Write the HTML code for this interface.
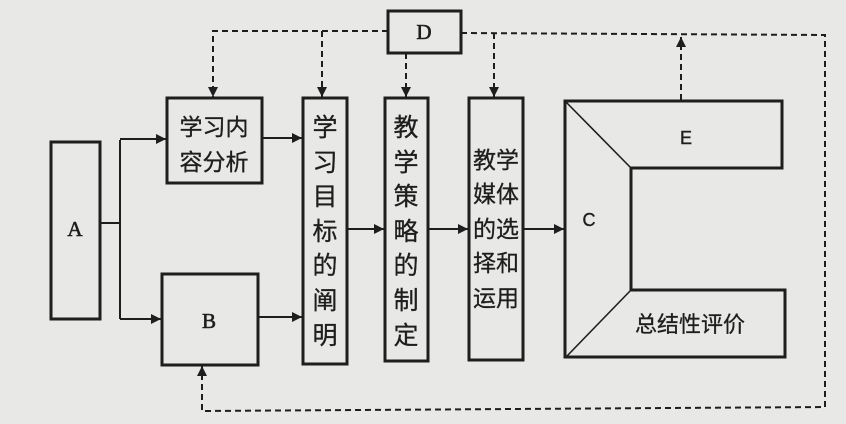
<!DOCTYPE html>
<html><head><meta charset="utf-8"><style>
html,body{margin:0;padding:0;background:#e8e8e6;}
svg{display:block;}
.cj{font-family:"Liberation Sans","Noto Sans CJK SC",sans-serif;fill:#1e1e1e;stroke:#1e1e1e;stroke-width:0.3;}
</style></head><body>
<svg width="846" height="424" viewBox="0 0 846 424" xmlns="http://www.w3.org/2000/svg">
<defs>
<marker id="ar" viewBox="0 0 10 10" refX="10" refY="5" markerWidth="10" markerHeight="10" markerUnits="userSpaceOnUse" orient="auto">
<path d="M0,0 L10,5 L0,10 z" fill="#1e1e1e"/>
</marker>
</defs>
<rect width="846" height="424" fill="#e8e8e6"/>
<g fill="none" stroke="#1e1e1e" stroke-width="3">
<rect x="51" y="142" width="49" height="177"/>
<rect x="167" y="98" width="95" height="85"/>
<rect x="162" y="274" width="96" height="91"/>
<rect x="303" y="98" width="44" height="266"/>
<rect x="385" y="98" width="43" height="263"/>
<rect x="469" y="98" width="54" height="262"/>
<rect x="388" y="11" width="73" height="42"/>
<path d="M565,101 L782,101 L782,168 L631,168 L631,290 L785,290 L785,357 L565,357 Z"/>
</g>
<g fill="none" stroke="#1e1e1e" stroke-width="1.6">
<line x1="565" y1="101" x2="631" y2="168"/>
<line x1="631" y1="290" x2="567" y2="356"/>
</g>
<g fill="none" stroke="#1e1e1e" stroke-width="2">
<polyline points="100,223 120,223"/>
<polyline points="120,140 120,319"/>
<line x1="120" y1="139" x2="166" y2="139" marker-end="url(#ar)"/>
<line x1="120" y1="319" x2="161" y2="319" marker-end="url(#ar)"/>
<line x1="262" y1="138" x2="302" y2="138" marker-end="url(#ar)"/>
<line x1="258" y1="317" x2="302" y2="317" marker-end="url(#ar)"/>
<line x1="347" y1="229" x2="384" y2="229" marker-end="url(#ar)"/>
<line x1="428" y1="229" x2="468" y2="229" marker-end="url(#ar)"/>
<line x1="523" y1="229" x2="564" y2="229" marker-end="url(#ar)"/>
</g>
<g fill="none" stroke="#1e1e1e" stroke-width="2" stroke-dasharray="6,4">
<polyline points="388,31 213,31 213,97" marker-end="url(#ar)"/>
<line x1="322" y1="31" x2="322" y2="97" marker-end="url(#ar)"/>
<line x1="406" y1="53" x2="406" y2="97" marker-end="url(#ar)"/>
<polyline points="461,33 825,35 825,407 202,411 202,366" marker-end="url(#ar)"/>
<line x1="494" y1="33" x2="494" y2="97" marker-end="url(#ar)"/>
<line x1="681" y1="100" x2="681" y2="37" marker-end="url(#ar)"/>
</g>
<g font-family="Liberation Serif, serif" font-size="21" fill="#1e1e1e" stroke="#1e1e1e" stroke-width="0.6" text-anchor="middle">
<text x="75" y="236">A</text>
<text x="209" y="328">B</text>
<text x="424" y="39">D</text>
</g>
<g font-family="Liberation Sans, sans-serif" font-size="18" fill="#1e1e1e" stroke="#1e1e1e" stroke-width="0.4" text-anchor="middle">
<text x="686" y="144">E</text>
<text x="589" y="226">C</text>
</g>
<g class="cj" font-size="23" text-anchor="middle">
<text x="214" y="135">学习内</text>
<text x="214" y="170">容分析</text>
</g>
<g class="cj" font-size="25" text-anchor="middle">
<text x="325" y="136">学</text>
<text x="325" y="171">习</text>
<text x="325" y="205">目</text>
<text x="325" y="240">标</text>
<text x="325" y="274">的</text>
<text x="325" y="309">阐</text>
<text x="325" y="344">明</text>
<text x="406" y="136">教</text>
<text x="406" y="171">学</text>
<text x="406" y="205">策</text>
<text x="406" y="240">略</text>
<text x="406" y="274">的</text>
<text x="406" y="309">制</text>
<text x="406" y="344">定</text>
</g>
<g class="cj" font-size="23" text-anchor="middle">
<text x="496" y="168">教学</text>
<text x="496" y="202">媒体</text>
<text x="496" y="237">的选</text>
<text x="496" y="271">择和</text>
<text x="496" y="306">运用</text>
</g>
<g class="cj" font-size="22" text-anchor="middle">
<text x="690" y="332">总结性评价</text>
</g>
</svg>
</body></html>
